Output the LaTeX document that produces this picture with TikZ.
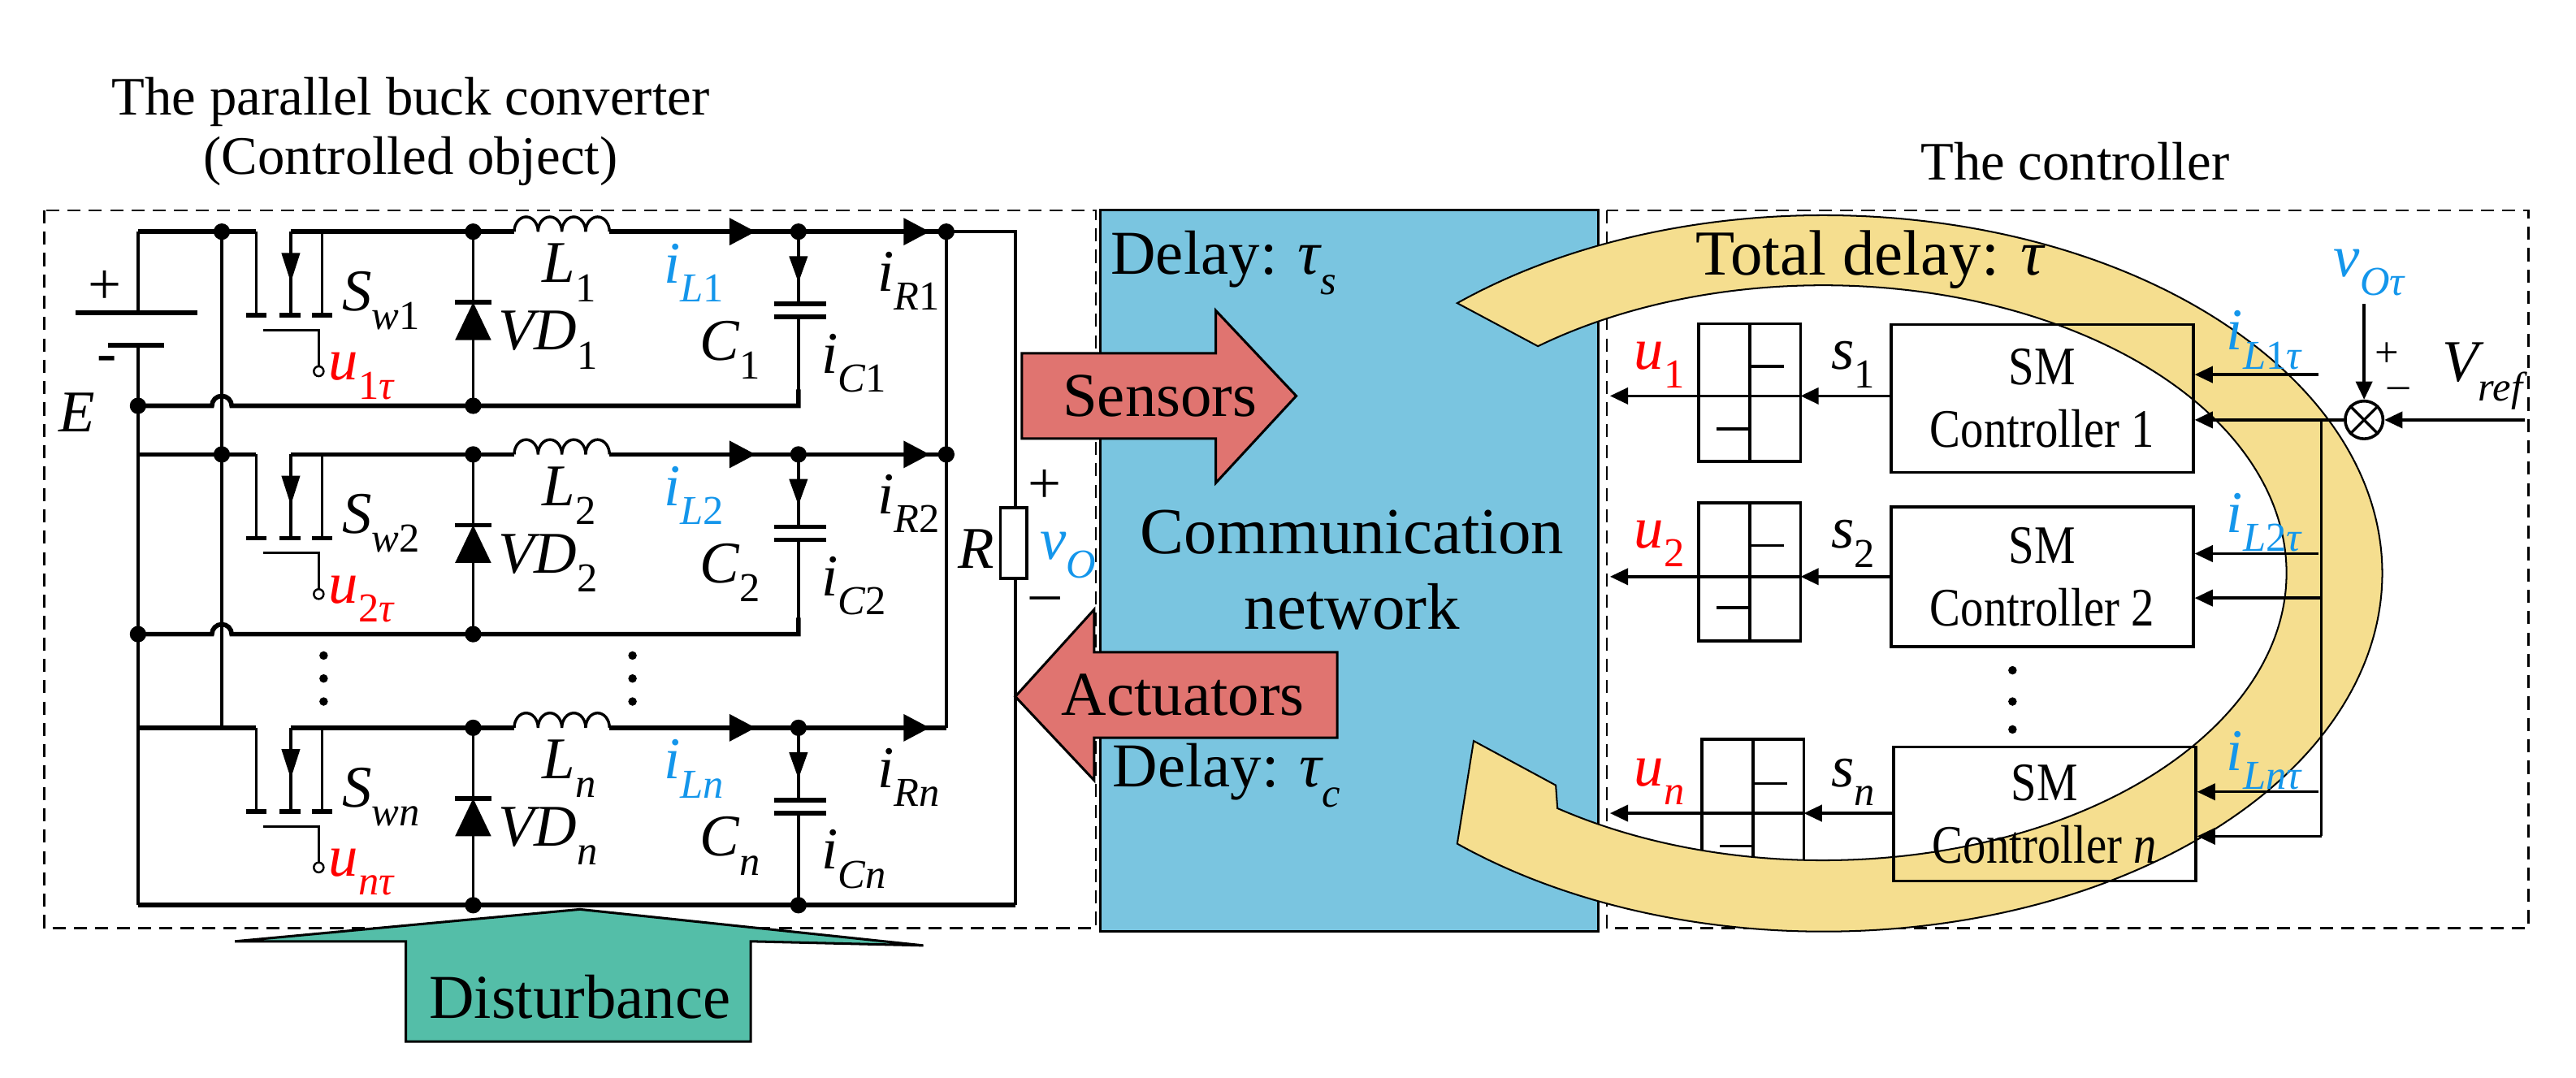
\documentclass[tikz,border=0pt]{standalone}
\usepackage{fontspec}
\setmainfont{LiberationSerif}[Extension=.ttf,UprightFont=*-Regular,ItalicFont=*-Italic,BoldFont=*-Bold,BoldItalicFont=*-BoldItalic]
\newfontfamily\cond{LiberationSerif}[Extension=.ttf,UprightFont=*-Regular,ItalicFont=*-Italic,FakeStretch=0.85]
\usetikzlibrary{arrows.meta}
\definecolor{lblue}{RGB}{20,150,235}
\definecolor{netblue}{RGB}{122,197,224}
\definecolor{pinkred}{RGB}{224,116,112}
\definecolor{teal2}{RGB}{84,190,168}
\definecolor{ringy}{RGB}{245,222,143}
\newcommand\sbx[1]{\raisebox{-0.32em}{\fontsize{25}{25}\selectfont #1}}
\newcommand\ilab[2]{{\itshape #1}\sbx{#2}}
\begin{document}
\begin{tikzpicture}[x=1pt,y=-1pt,
  wire/.style={line width=1.7pt},
  rail/.style={line width=2.8pt},
  dbox/.style={line width=1.3pt,dash pattern=on 8pt off 5pt},
  arr/.style={-{Triangle[length=11,width=10]}},
  dot/.style={circle,fill,inner sep=0pt,minimum size=10pt},
  lab/.style={font=\fontsize{36}{38}\selectfont,inner sep=0pt},
  big/.style={font=\fontsize{38}{40}\selectfont,inner sep=0pt},
  smbox/.style={draw,line width=1.8pt,minimum width=184pt,align=center,font=\cond\fontsize{33}{38}\selectfont,inner sep=0pt},
  fat/.style={draw,line width=1.5pt,line join=miter}]
\useasboundingbox (0,0) rectangle (1568,656);
% titles
\node[font=\fontsize{33}{36}\selectfont,align=center] (t1) at (250,80) {The parallel buck converter\\(Controlled object)};
\node[font=\fontsize{33}{36}\selectfont] (t2) at (1263,98) {The controller};
% boxes
\draw[dbox] (27,128) rectangle (667,565);
\draw[dbox] (978,128) rectangle (1539,565);
\draw[fill=netblue,line width=1.5pt] (670,128) rectangle (973,567);
% ---------- circuit
\draw[wire] (84,141) -- (84,190.5);
\draw[rail] (46,190.5) -- (120,190.5);
\draw[rail] (66,210) -- (100,210);
\draw[wire] (84,210) -- (84,551);
\node[lab] (plus) at (64,175) {+};
\node[lab] (minus) at (65,222) {-};
\node[lab] (E) at (47,251) {\itshape E};
\draw[wire] (135,141) -- (135,443);
\draw[wire] (576,141) -- (576,443);
\draw[wire] (576,141) -- (618,141) -- (618,309);
\draw[wire] (618,352) -- (618,551);
\draw[wire,fill=white] (609,309) rectangle (625,352);
\node[lab] (R) at (594,334) {\itshape R};
\node[lab] (rp) at (636,296) {+};
\node[lab] (rm) at (636,368) {\textendash};
\node[lab,text=lblue] (vO) at (650,338) {\ilab{v}{\itshape O}};
\draw[rail] (84,551) -- (618,551);
\foreach \T/\B/\k/\kk/\last in {141/247/1/1/0, 276.6/386/2/2/0, 443/551/n/{\itshape n}/1}{
  \draw[rail] (84,\T) -- (156,\T);
  \draw[wire] (156,\T) -- (156,\T+51);
  \draw[rail] (177,\T) -- (313,\T);
  \draw[wire] (196,\T) -- (196,\T+51);
  \draw[wire,-{Triangle[length=18,width=11]}] (177,\T) -- (177,\T+31);
  \draw[wire] (177,\T+28) -- (177,\T+51);
  \draw[rail] (150,\T+51) -- (162,\T+51) (170,\T+51) -- (183,\T+51) (190,\T+51) -- (202,\T+51);
  \draw[wire] (160,\T+60) -- (194,\T+60) -- (194,\T+82);
  \draw[line width=1.2pt,fill=white] (194,\T+85) circle (3);
  \draw[wire] (288,\T) -- (288,\B);
  \fill (277,\T+66) -- (299,\T+66) -- (288,\T+43) -- cycle;
  \draw[rail] (277,\T+43) -- (299,\T+43);
  \draw[wire] (313,\T) \foreach \i in {0,1,2,3} { arc[start angle=180,end angle=360,x radius=7.25,y radius=9] };
  \draw[rail,-{Triangle[length=16,width=16]}] (371,\T) -- (460,\T);
  \draw[rail] (455,\T) -- (486,\T);
  \draw[rail,-{Triangle[length=16,width=16]}] (486,\T) -- (566,\T);
  \draw[rail] (560,\T) -- (576,\T);
  \draw[wire,-{Triangle[length=16,width=11]}] (486,\T) -- (486,\T+31);
  \draw[wire] (486,\T+28) -- (486,\T+44);
  \draw[rail] (471,\T+44) -- (503,\T+44);
  \draw[rail] (471,\T+52) -- (503,\T+52);
  \draw[wire] (486,\T+52) -- (486,\B);
  \node[dot] at (288,\T) {}; \node[dot] at (486,\T) {};
  \node[dot] at (288,\B) {};
  \node[lab,anchor=west] at (208,\T+42) {\ilab{S}{{\itshape w}\kk}};
  \node[lab,anchor=west,text=red] at (200,\T+88) {\ilab{u}{\kk{\itshape τ}}};
  \node[lab,anchor=west] at (330,\T+25) {\ilab{L}{\kk}};
  \node[lab,anchor=west] at (303,\T+66) {\ilab{VD}{\kk}};
  \node[lab,anchor=west,text=lblue] at (404,\T+25) {\ilab{i}{{\itshape L}\kk}};
  \node[lab,anchor=west] at (426,\T+72) {\ilab{C}{\kk}};
  \node[lab,anchor=west] at (500,\T+80) {\ilab{i}{{\itshape C}\kk}};
  \node[lab,anchor=west] at (534,\T+30) {\ilab{i}{{\itshape R}\kk}};
}
\foreach \B in {247,386}{
  \draw[rail] (84,\B) -- (129,\B) arc[start angle=180,end angle=360,radius=6] -- (486,\B) -- (486,\B-10);
  \node[dot] at (84,\B) {};
}
\node[dot] at (135,141) {}; \node[dot] at (135,276.6) {};
\node[dot] at (576,141) {}; \node[dot] at (576,276.6) {};
\node[dot] at (486,551) {};
\foreach \y in {399,413,427}{\fill (197,\y) circle (2.6); \fill (385,\y) circle (2.6);}
% ---------- big arrows
\draw[fat,fill=pinkred] (622,215) -- (740,215) -- (740,189) -- (789,241) -- (740,294) -- (740,267) -- (622,267) -- cycle;
\node[big] (sens) at (706,241) {Sensors};
\draw[fat,fill=pinkred] (618,424) -- (666,371) -- (666,397) -- (814,397) -- (814,449) -- (666,449) -- (666,475) -- cycle;
\node[big] (act) at (720,423) {Actuators};
\draw[fat,fill=teal2] (353,553.5) -- (562,575.5) -- (457,573) -- (457,634) -- (247,634) -- (247,573) -- (143,573) -- cycle;
\node[big] (dist) at (353,607) {Disturbance};
\node[font=\fontsize{40}{46}\selectfont,align=center] (net) at (823,347) {Communication\\network};
\node[big,anchor=west] (ds) at (676,160) {Delay: {\itshape τ}\sbx{\itshape s}};
\node[big,anchor=west] (dc) at (677,472) {Delay: {\itshape τ}\sbx{\itshape c}};
\draw[line width=1.8pt] (1036,525) -- (1036,450) -- (1098,450) -- (1098,525) (1067,450) -- (1067,525);
\draw[line width=1.8pt] (1067,477) -- (1088,477) (1047,515) -- (1067,515);
% ---------- ring arrow
\draw[line width=1pt,fill=ringy] (887,184.5) arc[start angle=-131,end angle=131,x radius=340,y radius=218]
  -- (897,451) -- (947,478) -- (948,492) arc[start angle=125,end angle=-128,x radius=282,y radius=175] -- cycle;
\node[font=\fontsize{39}{42}\selectfont] (td) at (1138,158) {Total delay: {\itshape τ}};
% ---------- controller
\node[smbox,minimum height=90pt] (sm1) at (1243,242.6) {SM\\Controller 1};
\node[smbox,minimum height=85pt] (sm2) at (1243,351) {SM\\Controller 2};
\node[smbox,minimum height=81.5pt] (smn) at (1244.5,495.5) {SM\\Controller {\itshape n}};
\foreach \y in {408,427,444}{\fill (1225,\y) circle (2.6);}
\foreach \a/\b/\m/\u/\l in {197/281/241/223/261, 306/390/351/332/370}{
  \draw[line width=1.8pt] (1034,\a) rectangle (1096,\b);
  \draw[line width=1.8pt] (1065,\a) -- (1065,\b) (1065,\u) -- (1086,\u) (1045,\l) -- (1065,\l);
}
\draw[wire,arr] (sm1.west |- 0,241) -- (1096,241);
\draw[wire,arr] (1096,241) -- (980,241);
\draw[wire,arr] (sm2.west |- 0,351) -- (1096,351);
\draw[wire,arr] (1096,351) -- (980,351);
\draw[wire,arr] (smn.west |- 0,495) -- (1098,495);
\draw[wire,arr] (1098,495) -- (980,495);
\node[lab] (s1) at (1128,222) {\ilab{s}{1}};
\node[lab] (s2) at (1128,331) {\ilab{s}{2}};
\node[lab] (sn) at (1128,476) {\ilab{s}{\itshape n}};
\node[lab,text=red] (u1) at (1010,222) {\ilab{u}{1}};
\node[lab,text=red] (u2) at (1010,331) {\ilab{u}{2}};
\node[lab,text=red] (un) at (1010,476) {\ilab{u}{\itshape n}};
\coordinate (in1) at (1411,228);
\coordinate (in2) at (1411,337);
\coordinate (inn) at (1411,482);
\draw[wire,arr] (in1) -- (sm1.east |- in1);
\draw[wire,arr] (in2) -- (sm2.east |- in2);
\draw[wire,arr] (inn) -- (smn.east |- inn);
\node[lab,text=lblue] at (1378,207) {\ilab{i}{{\itshape L}1{\itshape τ}}};
\node[lab,text=lblue] at (1378,318) {\ilab{i}{{\itshape L}2{\itshape τ}}};
\node[lab,text=lblue] at (1378,463) {\ilab{i}{{\itshape Lnτ}}};
\node[circle,draw,line width=1.8pt,minimum size=23pt,inner sep=0pt] (sum) at (1439,255.6) {};
\draw[line width=1.6pt] (sum.north west) -- (sum.south east) (sum.north east) -- (sum.south west);
\coordinate (fb) at (1413,255.6);
\draw[wire,arr] (sum.west) -- (sm1.east |- sum);
\draw[wire] (fb) -- (1413,509);
\draw[wire,arr] (1413,364) -- (sm2.east |- 0,364);
\draw[wire,arr] (1413,509) -- (smn.east |- 0,509);
\coordinate (vin) at (1439,185);
\coordinate (rin) at (1537,255.6);
\draw[wire,arr] (vin) -- (sum.north);
\draw[wire,arr] (rin) -- (sum.east);
\node[lab,text=lblue] (vOt) at (1442,166) {\ilab{v}{{\itshape Oτ}}};
\node[font=\fontsize{26}{28}\selectfont] at (1453,216) {+};
\node[font=\fontsize{26}{28}\selectfont] at (1460,239) {\textendash};
\node[lab] (vref) at (1511,229) {\ilab{V}{\itshape ref}};
\end{tikzpicture}
\end{document}
